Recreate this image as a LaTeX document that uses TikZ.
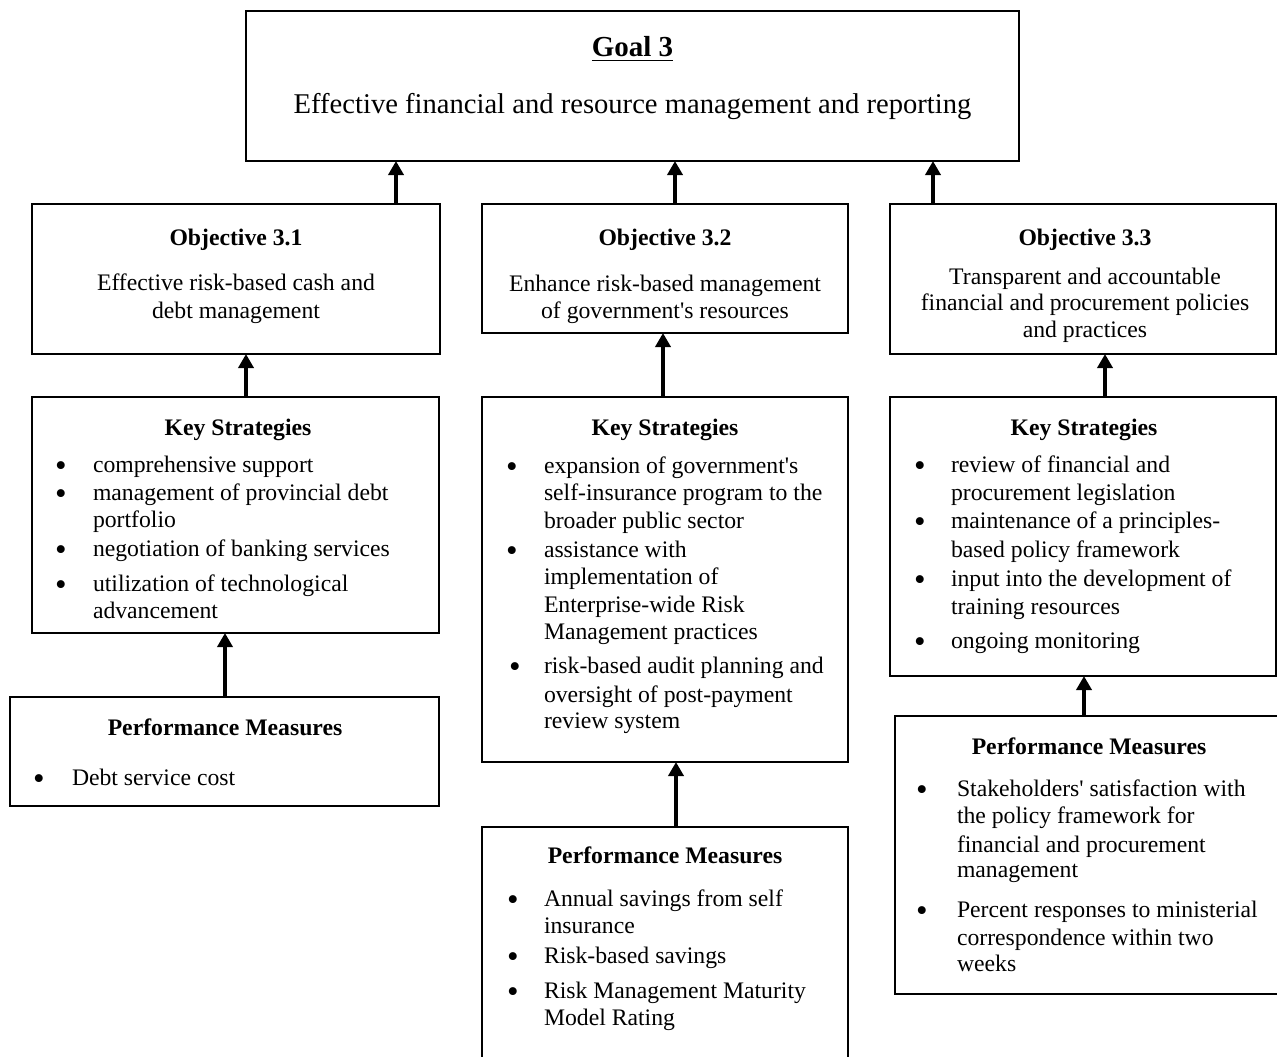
\documentclass[tikz,border=0pt]{standalone}
\usepackage{fontspec}
\setmainfont{Liberation Serif}
\usetikzlibrary{arrows.meta}
\newcommand\fsz{\fontsize{23.7}{28}\selectfont}
\newcommand\ap{\textquotesingle}
\tikzset{
  box/.style={draw, line width=1.5pt, inner sep=0pt, outer sep=0pt},
  txt/.style={inner sep=0pt, outer sep=0pt, font=\fsz},
  ttl/.style={txt, font=\fsz\bfseries, anchor=base},
  ctr/.style={txt, anchor=base},
  ln/.style={txt, anchor=base west},
  bul/.style={inner sep=0pt, outer sep=0pt, font=\fontsize{33}{33}\selectfont, anchor=base},
  arr/.style={line width=4.5pt, -{Triangle[width=15pt,length=14pt]}}
}
\newcommand\Ln[4]{\node[ln] (#1) at (#2,#3) {#4};}
\newcommand\Bu[3]{\node[bul] (#1) at (#2,#3+4.4) {\smash{•}};}
\begin{document}
\begin{tikzpicture}[x=1pt,y=-1pt]
\useasboundingbox (0,0) rectangle (1277,1057);
\clip (0,0) rectangle (1277,1057);
% boxes
\node[box, minimum width=773pt, minimum height=150pt] (goal) at (632.5,86) {};
\node[box, minimum width=408pt, minimum height=150pt] (obj1) at (236,279) {};
\node[box, minimum width=366pt, minimum height=129pt] (obj2) at (665,268.5) {};
\node[box, minimum width=386pt, minimum height=150pt] (obj3) at (1083,279) {};
\node[box, minimum width=407pt, minimum height=236pt] (ks1) at (235.5,515) {};
\node[box, minimum width=366pt, minimum height=365pt] (ks2) at (665,579.5) {};
\node[box, minimum width=386pt, minimum height=279pt] (ks3) at (1083,536.5) {};
\node[box, minimum width=429pt, minimum height=109pt] (pm1) at (224.5,751.5) {};
\node[box, minimum width=366pt, minimum height=253pt] (pm2) at (665,953.5) {};
\node[box, minimum width=405pt, minimum height=278pt] (pm3) at (1097.5,855) {};
% arrows
\draw[arr] ([xshift=160pt]obj1.north) -- ([xshift=-236.5pt]goal.south);
\draw[arr] ([xshift=10pt]obj2.north) -- ([xshift=42.5pt]goal.south);
\draw[arr] ([xshift=-150pt]obj3.north) -- ([xshift=300.5pt]goal.south);
\draw[arr] ([xshift=10.5pt]ks1.north) -- ([xshift=10pt]obj1.south);
\draw[arr] ([xshift=-2pt]ks2.north) -- ([xshift=-2pt]obj2.south);
\draw[arr] ([xshift=22pt]ks3.north) -- ([xshift=22pt]obj3.south);
\draw[arr] ([xshift=0.5pt]pm1.north) -- ([xshift=-10.5pt]ks1.south);
\draw[arr] ([xshift=11pt]pm2.north) -- ([xshift=11pt]ks2.south);
\draw[arr] ([xshift=-13.5pt]pm3.north) -- ([xshift=1pt]ks3.south);
% goal text
\node[txt, anchor=base, font=\fontsize{29}{34}\selectfont\bfseries] (gt) at (632.5,57) {Goal 3};
\draw[line width=1.8pt] ([yshift=-3.5pt]gt.base west) -- ([yshift=-3.5pt]gt.base east);
\node[txt, anchor=base, font=\fontsize{28.6}{34}\selectfont] (gx) at (632.5,113) {Effective financial and resource management and reporting};
% objective 3.1
\node[ttl] (o1t) at (236,245) {Objective 3.1};
\node[ctr] (o1a) at (236,290) {Effective risk-based cash and};
\node[ctr] (o1b) at (236,318) {debt management};
% objective 3.2
\node[ttl] (o2t) at (665,245) {Objective 3.2};
\node[ctr] (o2a) at (665,291) {Enhance risk-based management};
\node[ctr] (o2b) at (665,318) {of government\ap s resources};
% objective 3.3
\node[ttl] (o3t) at (1085,245) {Objective 3.3};
\node[ctr] (o3a) at (1085,284) {Transparent and accountable};
\node[ctr] (o3b) at (1085,310) {financial and procurement policies};
\node[ctr] (o3c) at (1085,337) {and practices};
% key strategies 3.1
\node[ttl] (k1t) at (238,435) {Key Strategies};
\Bu{k1b1}{61}{472}\Ln{k1a}{93}{472}{comprehensive support}
\Bu{k1b2}{61}{500}\Ln{k1b}{93}{500}{management of provincial debt}
\Ln{k1c}{93}{527}{portfolio}
\Bu{k1b3}{61}{556}\Ln{k1d}{93}{556}{negotiation of banking services}
\Bu{k1b4}{61}{591}\Ln{k1e}{93}{591}{utilization of technological}
\Ln{k1f}{93}{618}{advancement}
% performance measures 3.1
\node[ttl] (p1t) at (225,735) {Performance Measures};
\Bu{p1b1}{39}{785}\Ln{p1a}{72}{785}{Debt service cost}
% key strategies 3.2
\node[ttl] (k2t) at (665,435) {Key Strategies};
\Bu{k2b1}{512}{473}\Ln{k2a}{544}{473}{expansion of government\ap s}
\Ln{k2b}{544}{500}{self-insurance program to the}
\Ln{k2c}{544}{528}{broader public sector}
\Bu{k2b2}{512}{557}\Ln{k2d}{544}{557}{assistance with}
\Ln{k2e}{544}{584}{implementation of}
\Ln{k2f}{544}{612}{Enterprise-wide Risk}
\Ln{k2g}{544}{639}{Management practices}
\Bu{k2b3}{515}{673}\Ln{k2h}{544}{673}{risk-based audit planning and}
\Ln{k2i}{544}{702}{oversight of post-payment}
\Ln{k2j}{544}{728}{review system}
% performance measures 3.2
\node[ttl] (p2t) at (665,863) {Performance Measures};
\Bu{p2b1}{513}{906}\Ln{p2a}{544}{906}{Annual savings from self}
\Ln{p2b}{544}{933}{insurance}
\Bu{p2b2}{513}{963}\Ln{p2c}{544}{963}{Risk-based savings}
\Bu{p2b3}{513}{998}\Ln{p2d}{544}{998}{Risk Management Maturity}
\Ln{p2e}{544}{1025}{Model Rating}
% key strategies 3.3
\node[ttl] (k3t) at (1084,435) {Key Strategies};
\Bu{k3b1}{920}{472}\Ln{k3a}{951}{472}{review of financial and}
\Ln{k3b}{951}{500}{procurement legislation}
\Bu{k3b2}{920}{528}\Ln{k3c}{951}{528}{maintenance of a principles-}
\Ln{k3d}{951}{557}{based policy framework}
\Bu{k3b3}{920}{586}\Ln{k3e}{951}{586}{input into the development of}
\Ln{k3f}{951}{614}{training resources}
\Bu{k3b4}{920}{648}\Ln{k3g}{951}{648}{ongoing monitoring}
% performance measures 3.3
\node[ttl] (p3t) at (1089,754) {Performance Measures};
\Bu{p3b1}{922}{796}\Ln{p3a}{957}{796}{Stakeholders\ap\ satisfaction with}
\Ln{p3b}{957}{823}{the policy framework for}
\Ln{p3c}{957}{852}{financial and procurement}
\Ln{p3d}{957}{877}{management}
\Bu{p3b2}{922}{917}\Ln{p3e}{957}{917}{Percent responses to ministerial}
\Ln{p3f}{957}{945}{correspondence within two}
\Ln{p3g}{957}{971}{weeks}
\end{tikzpicture}
\end{document}
